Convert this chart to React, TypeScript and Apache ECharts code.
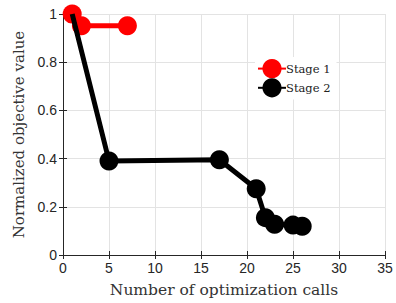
import React, { useEffect, useRef } from "react";
import * as echarts from "echarts";

const stage1X = [1, 2, 7];
const stage1Y = [1.0, 0.951, 0.951];
const stage2X = [1, 5, 17, 21, 22, 23, 25, 26];
const stage2Y = [1.0, 0.39, 0.395, 0.275, 0.155, 0.128, 0.124, 0.119];
const seriesNames = ["Stage 1", "Stage 2"];
const xTitle = "Number of optimization calls";
const yTitle = "Normalized objective value";

export default function App() {
  const ref = useRef<HTMLDivElement>(null);
  useEffect(() => {
    if (!ref.current) return;
    const chart = echarts.init(ref.current, null, { renderer: "svg" });
    const axisColor = "#262626";
    const gridColor = "#e3e3e3";
    const tickFont = { fontFamily: "Liberation Sans", fontSize: 14, color: "#262626" };
    const serif = "DejaVu Serif";
    const s1 = stage1X.map((x, i) => [x, stage1Y[i]]);
    const s2 = stage2X.map((x, i) =>
      i === 0 ? { value: [x, stage2Y[i]], symbol: "none" } : [x, stage2Y[i]]
    );
    chart.setOption({
      animation: false,
      grid: { left: 63, right: 11, top: 14, bottom: 44, containLabel: false },
      xAxis: [
        {
          type: "value", min: 0, max: 35, interval: 5, position: "bottom",
          axisLine: { show: true, lineStyle: { color: axisColor, width: 1 } },
          axisTick: { show: true, inside: true, length: 4, lineStyle: { color: axisColor } },
          axisLabel: { ...tickFont, margin: 6 },
          splitLine: { show: true, lineStyle: { color: gridColor, width: 1 } },
          name: xTitle, nameLocation: "middle", nameGap: 27,
          nameTextStyle: { fontFamily: serif, fontSize: 15.5, color: "#333" },
        },
        {
          type: "value", min: 0, max: 35, interval: 5, position: "top",
          axisLine: { show: true, lineStyle: { color: axisColor, width: 1 } },
          axisTick: { show: true, inside: true, length: 4, lineStyle: { color: axisColor } },
          axisLabel: { show: false }, splitLine: { show: false },
        },
      ],
      yAxis: [
        {
          type: "value", min: 0, max: 1, interval: 0.2, position: "left",
          axisLine: { show: true, lineStyle: { color: axisColor, width: 1 } },
          axisTick: { show: true, inside: true, length: 4, lineStyle: { color: axisColor } },
          axisLabel: { ...tickFont, margin: 6, formatter: (v: number) => String(Math.round(v * 10) / 10) },
          splitLine: { show: true, lineStyle: { color: gridColor, width: 1 } },
          name: yTitle, nameLocation: "middle", nameGap: 37,
          nameTextStyle: { fontFamily: serif, fontSize: 15, color: "#333" },
        },
        {
          type: "value", min: 0, max: 1, interval: 0.2, position: "right",
          axisLine: { show: true, lineStyle: { color: axisColor, width: 1 } },
          axisTick: { show: true, inside: true, length: 4, lineStyle: { color: axisColor } },
          axisLabel: { show: false }, splitLine: { show: false },
        },
      ],
      legend: {
        orient: "vertical", left: 255, top: 57,
        backgroundColor: "#ffffff", padding: [2, 6, 2, 2], itemGap: 0,
        itemWidth: 28, itemHeight: 24,
        textStyle: { fontFamily: serif, fontSize: 11.5, color: "#222", padding: [0, 0, 0, -5] },
        data: seriesNames,
      },
      series: [
        {
          name: seriesNames[0], type: "line", data: s1, z: 2,
          symbol: "circle", symbolSize: 19,
          lineStyle: { color: "#ff0000", width: 5 },
          itemStyle: { color: "#ff0000" },
        },
        {
          name: seriesNames[1], type: "line", data: s2, z: 3,
          symbol: "circle", symbolSize: 19,
          lineStyle: { color: "#000000", width: 5 },
          itemStyle: { color: "#000000" },
        },
      ],
    });
    return () => chart.dispose();
  }, []);
  return <div ref={ref} style={{ width: 396, height: 303, position: "absolute", left: 0, top: 0 }} />;
}
